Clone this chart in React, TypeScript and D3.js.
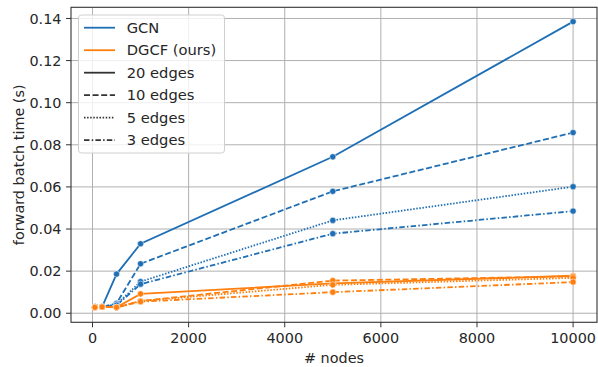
import React from "react";
import * as d3 from "d3";

const nodes = [50, 200, 500, 1000, 5000, 10000];
const edgeLabels = ["20 edges", "10 edges", "5 edges", "3 edges"];
const gcnTimes = [
  [0.003, 0.003, 0.0186, 0.033, 0.0743, 0.1385],
  [0.003, 0.003, 0.0047, 0.0235, 0.0579, 0.0858],
  [0.003, 0.003, 0.0042, 0.015, 0.0441, 0.0601],
  [0.003, 0.003, 0.0038, 0.0138, 0.0378, 0.0485],
];
const dgcfTimes = [
  [0.0028, 0.003, 0.0028, 0.0092, 0.0142, 0.0178],
  [0.0028, 0.003, 0.0028, 0.0058, 0.0155, 0.0175],
  [0.0028, 0.003, 0.0028, 0.0058, 0.0135, 0.0168],
  [0.0028, 0.003, 0.0028, 0.0055, 0.01, 0.0148],
];
const modelLabels = ["GCN", "DGCF (ours)"];
const xTicks = [0, 2000, 4000, 6000, 8000, 10000];
const yTicks = [0, 0.02, 0.04, 0.06, 0.08, 0.1, 0.12, 0.14];

const COLORS = ["#1f6fb5", "#ff7f0e"];
const DASHES = ["none", "6,2.6", "1.5,1.6", "5.5,2.2,1.5,2.2"];
const FONT = "DejaVu Sans, sans-serif";
const FS = 14.4;

export default function App() {
  const W = 598, H = 367;
  const L = 71, R = 597, T = 7.3, B = 322.3;
  const x = d3.scaleLinear().domain([-447.5, 10497.5]).range([L, R]);
  const y = d3.scaleLinear().domain([-0.0043, 0.1453]).range([B, T]);
  const line = d3
    .line<number>()
    .x((_, i) => x(nodes[i]))
    .y((d) => y(d));

  const series = [gcnTimes, dgcfTimes];

  return (
    <svg
      width={W}
      height={H}
      style={{ position: "absolute", left: 0, top: 0, background: "#fff" }}
      fontFamily={FONT}
    >
      <rect x={0} y={0} width={W} height={H} fill="#fff" />
      {/* grid */}
      {xTicks.map((t) => (
        <line key={"gx" + t} x1={x(t)} x2={x(t)} y1={T} y2={B} stroke="#b0b0b0" strokeWidth={1} />
      ))}
      {yTicks.map((t) => (
        <line key={"gy" + t} x1={L} x2={R} y1={y(t)} y2={y(t)} stroke="#b0b0b0" strokeWidth={1} />
      ))}
      {/* series */}
      {series.map((s, mi) =>
        s.map((vals, ei) => (
          <path
            key={`s${mi}-${ei}`}
            d={line(vals) || ""}
            fill="none"
            stroke={COLORS[mi]}
            strokeWidth={1.8}
            strokeDasharray={DASHES[ei]}
          />
        ))
      )}
      {series.map((s, mi) =>
        s.map((vals, ei) =>
          vals.map((v, i) => (
            <circle
              key={`m${mi}-${ei}-${i}`}
              cx={x(nodes[i])}
              cy={y(v)}
              r={3.1}
              fill={COLORS[mi]}
              stroke="#fff"
              strokeWidth={0.5}
            />
          ))
        )
      )}
      {/* frame */}
      <rect x={L} y={T} width={R - L} height={B - T} fill="none" stroke="#333" strokeWidth={1.1} />
      {/* ticks */}
      {xTicks.map((t) => (
        <g key={"tx" + t}>
          <line x1={x(t)} x2={x(t)} y1={B} y2={B + 5} stroke="#333" strokeWidth={1} />
          <text x={x(t)} y={342.8} textAnchor="middle" fontSize={FS} fill="#262626">
            {t}
          </text>
        </g>
      ))}
      {yTicks.map((t) => (
        <g key={"ty" + t}>
          <line x1={L - 5} x2={L} y1={y(t)} y2={y(t)} stroke="#333" strokeWidth={1} />
          <text x={L - 9.5} y={y(t)} dy="0.36em" textAnchor="end" fontSize={FS} fill="#262626">
            {t.toFixed(2)}
          </text>
        </g>
      ))}
      <text x={(L + R) / 2} y={362.5} textAnchor="middle" fontSize={FS} fill="#262626">
        # nodes
      </text>
      <text
        transform={`translate(${19},${(T + B) / 2}) rotate(-90)`}
        textAnchor="middle"
        dy="0.36em"
        fontSize={FS}
        fill="#262626"
      >
        forward batch time (s)
      </text>
      {/* legend */}
      <g>
        <rect x={78.5} y={15} width={146} height={138} rx={3} fill="#fff" fillOpacity={0.8} stroke="#d0d0d0" />
        {[...modelLabels, ...edgeLabels].map((lab, i) => {
          const cy = 27.7 + i * 22.5;
          const stroke = i < 2 ? COLORS[i] : "#333";
          const dash = i < 2 ? "none" : DASHES[i - 2];
          return (
            <g key={"lg" + i}>
              <line x1={84} x2={115} y1={cy} y2={cy} stroke={stroke} strokeWidth={1.8} strokeDasharray={dash} />
              <text x={126.7} y={cy} dy="0.36em" fontSize={14.7} fill="#262626">
                {lab}
              </text>
            </g>
          );
        })}
      </g>
    </svg>
  );
}
